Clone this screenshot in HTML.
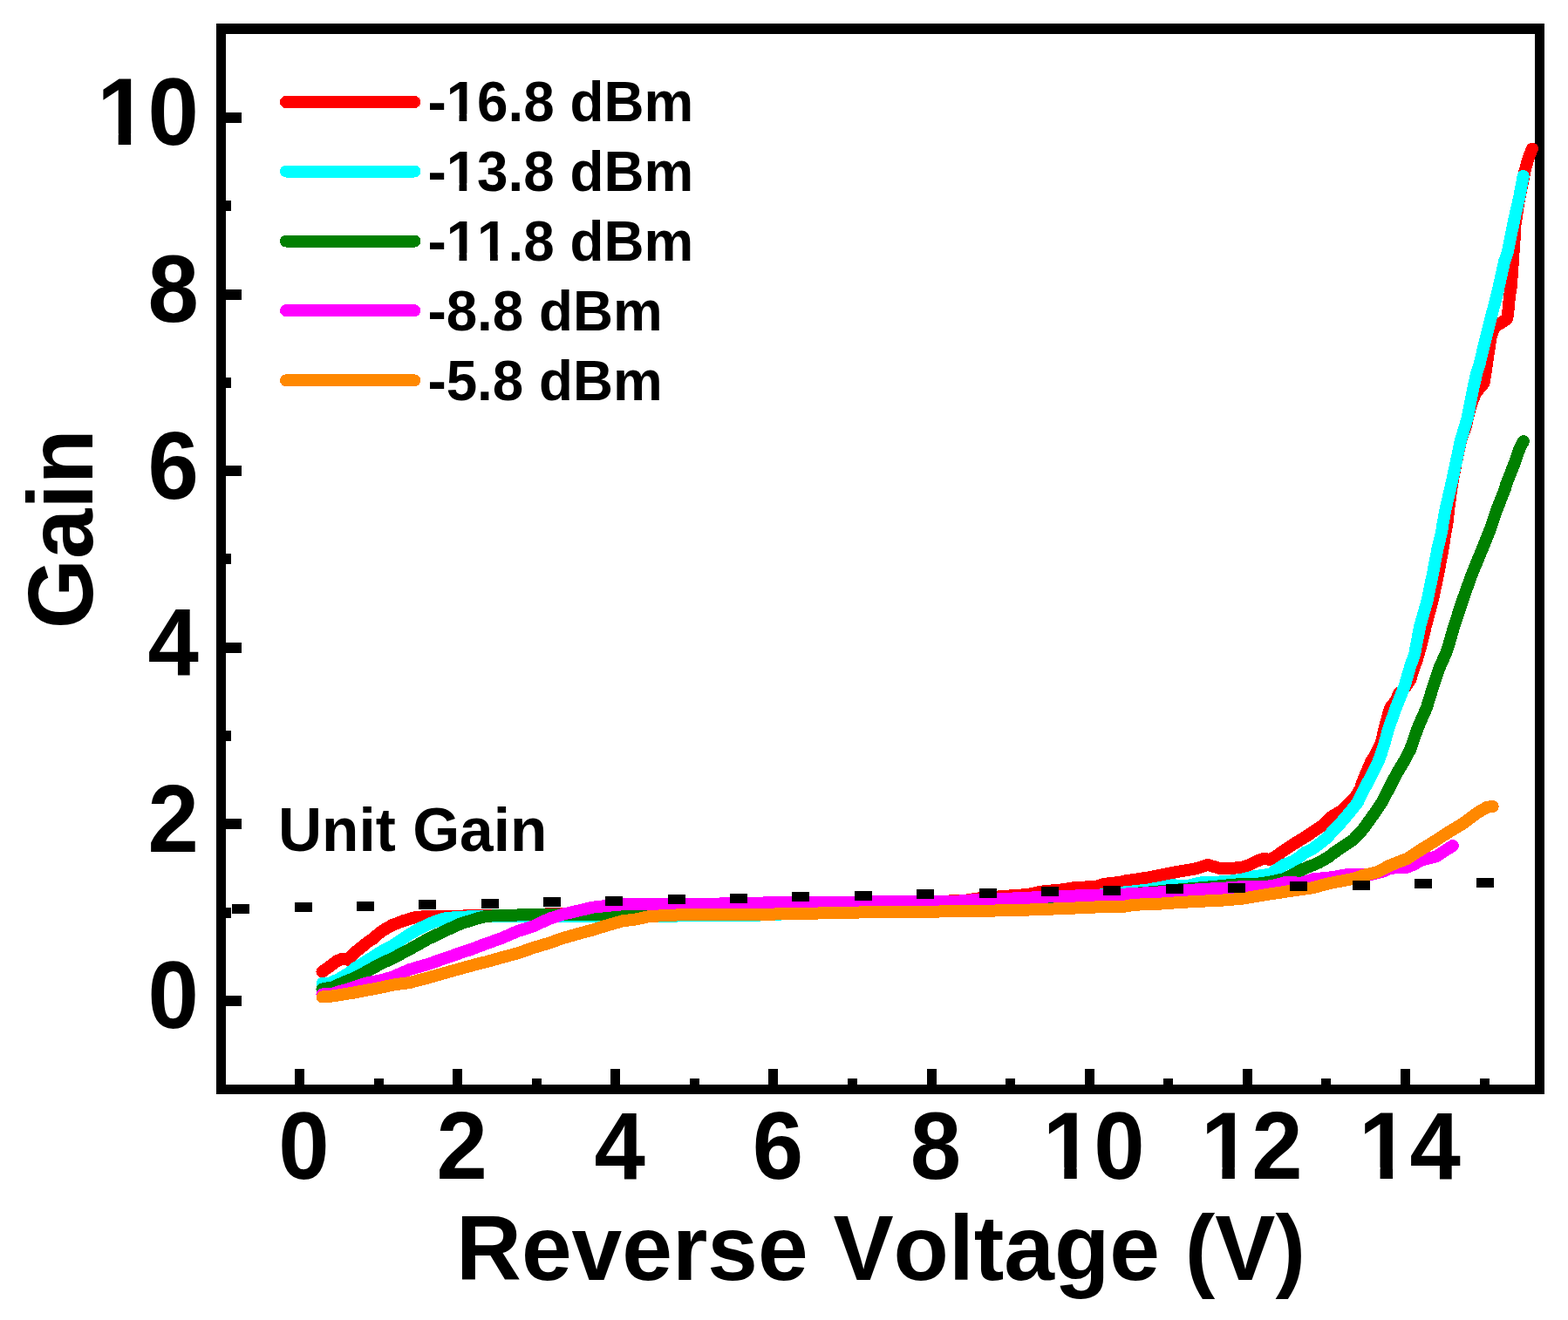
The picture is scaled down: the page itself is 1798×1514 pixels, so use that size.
<!DOCTYPE html>
<html><head><meta charset="utf-8"><title>Gain vs Reverse Voltage</title>
<style>
html,body{margin:0;padding:0;background:#fff;}
svg{display:block;}
text{font-family:"Liberation Sans",Arial,sans-serif;font-weight:bold;fill:#000;font-kerning:none;}
.tk{font-size:105px;}
.ti{font-size:103.7px;}
.ti2{font-size:103px;}
.lg{font-size:63.8px;}
.ug{font-size:69.4px;}
</style></head>
<body>
<svg width="1798" height="1514" viewBox="0 0 1798 1514">
<rect width="1798" height="1514" fill="#fff"/>
<g fill="#000" shape-rendering="crispEdges">
<rect x="248" y="27" width="1523" height="12"/>
<rect x="248" y="1244" width="1523" height="11"/>
<rect x="248" y="27" width="11" height="1228"/>
<rect x="1760" y="27" width="11" height="1228"/>
<rect x="338.00" y="1226" width="11" height="18"/>
<rect x="428.57" y="1237" width="11" height="7"/>
<rect x="519.14" y="1226" width="11" height="18"/>
<rect x="609.71" y="1237" width="11" height="7"/>
<rect x="700.28" y="1226" width="11" height="18"/>
<rect x="790.85" y="1237" width="11" height="7"/>
<rect x="881.42" y="1226" width="11" height="18"/>
<rect x="971.99" y="1237" width="11" height="7"/>
<rect x="1062.56" y="1226" width="11" height="18"/>
<rect x="1153.13" y="1237" width="11" height="7"/>
<rect x="1243.70" y="1226" width="11" height="18"/>
<rect x="1334.27" y="1237" width="11" height="7"/>
<rect x="1424.84" y="1226" width="11" height="18"/>
<rect x="1515.41" y="1237" width="11" height="7"/>
<rect x="1605.98" y="1226" width="11" height="18"/>
<rect x="1696.55" y="1237" width="11" height="7"/>
<rect x="259" y="1141.90" width="18" height="12"/>
<rect x="259" y="1040.60" width="6" height="12"/>
<rect x="259" y="939.30" width="18" height="12"/>
<rect x="259" y="838.00" width="6" height="12"/>
<rect x="259" y="736.70" width="18" height="12"/>
<rect x="259" y="635.40" width="6" height="12"/>
<rect x="259" y="534.10" width="18" height="12"/>
<rect x="259" y="432.80" width="6" height="12"/>
<rect x="259" y="331.50" width="18" height="12"/>
<rect x="259" y="230.20" width="6" height="12"/>
<rect x="259" y="128.90" width="18" height="12"/>
</g>
<g fill="none" stroke-width="14" stroke-linecap="round" stroke-linejoin="round" shape-rendering="crispEdges">
<polyline stroke="#ff0000" points="369.5,1114.5 378.4,1108.3 386,1102.5 391.2,1100.1 394,1100.3 399,1100.6 406.2,1093.3 410.6,1089.5 416.2,1085 421.7,1080.5 427.3,1077 434,1071 440,1066.7 450,1061 463.2,1055.9 476.4,1052.1 489.6,1051 516,1050.8 557,1050 595,1049.5 700,1046 800,1042 900,1039 1000,1036 1105.6,1033 1122,1030.4 1150,1028 1178,1026 1194.5,1022.6 1217,1020.4 1233.5,1018 1256,1017 1267,1013.7 1283.5,1012 1290,1010.5 1316.7,1006.5 1334.5,1003 1352.3,999.5 1370,996.6 1385,992 1401,996.5 1414.6,995.8 1428,994 1441,987.8 1446.6,985.5 1450.6,985 1455.9,985.8 1461.8,983.2 1470.4,976.7 1479.6,970.6 1489.5,964.3 1499.4,958.3 1508.7,951.8 1517.9,945.9 1525,938 1538,930 1547.5,921 1555,913 1560,904.5 1562,898 1565,890.5 1569,880.8 1572.5,873 1576,867.5 1579.5,861 1583.5,852.5 1587.8,835.1 1591.8,819.3 1594.5,811.3 1601,803.4 1604,795.5 1609.6,790.7 1617.2,779.6 1619.5,771.7 1625.1,755.9 1629,742 1634.7,718.9 1642.6,689.2 1649,659.4 1654.5,629.7 1657.5,610 1659.5,600 1661.3,583 1664.8,557.3 1669.5,531.5 1675,505.8 1681,488 1686,466.8 1692,451 1701.6,439.3 1704,424.5 1707,403.4 1710,384.4 1714,374.9 1728,366 1729,361 1731,340 1732.8,328.9 1735.2,294.6 1736.6,274.8 1737,261 1738.5,251.7 1741.1,233.2 1744.8,214.7 1748.5,196.2 1751,187 1753.9,177.7 1757,170.5"/>
<polyline stroke="#00ffff" points="369.5,1128 378.4,1127.6 388.4,1123 399.5,1116.5 407.8,1110 416,1105 438,1091 450,1084.7 469.8,1071.5 483,1064 496.2,1058 509.4,1053.5 522.7,1052 542.5,1051.2 565,1051 610,1051 690,1051 780,1050.5 860,1050 980,1045 1100,1038 1200,1031 1262,1026.5 1290,1023.3 1316.7,1020.6 1343.4,1015.3 1361.2,1016 1379,1012 1405.7,1011.3 1423.5,1009 1436.8,1005.5 1457.8,1002.4 1461.8,999 1473,991.5 1482.9,988 1492.8,981 1496,978 1504,974.4 1512.7,968 1522.6,960.1 1529.2,952.1 1531.9,950 1538.5,942.5 1545,935 1550.8,928 1556.7,920.5 1561.6,910.5 1568.2,897.6 1573.4,888 1577.5,879.7 1581.1,871.8 1584.3,863.2 1588,851 1592.4,835.1 1600.9,811.3 1610.4,787.6 1617.3,763.8 1622.2,750 1624,740 1628.1,718.9 1636.5,689.2 1642.7,659.4 1648.4,629.7 1653.1,610 1654.6,600 1657.8,583 1663.8,557.3 1669.4,531.5 1674.8,505.8 1682.5,480 1689.3,445.7 1693.5,426.8 1696.3,418.7 1703,391 1710,363.2 1717.2,335.5 1723.4,307.7 1725,300 1728.6,290 1730.7,279.5 1736.4,251.7 1742.6,224 1746.7,202"/>
<polyline stroke="#008000" points="369.5,1134.5 375,1133.5 382.8,1132 393.9,1126.7 405,1122.3 416.2,1116.7 427.3,1110.5 438.4,1104.5 449.5,1099.5 469.8,1088.8 489.6,1077.6 509.4,1068 529.3,1059 540,1055.8 549,1053 557.8,1050.7 575.7,1050.1 593.5,1049.5 611.3,1048.5 629.2,1048.5 680,1049 696.7,1048.5 713.4,1047.5 800,1048 940,1047 1000,1045 1100,1040 1200,1033 1300,1025 1380,1018 1422.6,1014 1440,1014 1456.5,1011.6 1473,1008 1492.8,997.5 1499.4,994.6 1506,992.1 1512.7,989.1 1522.6,983.5 1530,977.8 1543.9,968.4 1552,963 1563.9,950 1570.2,941 1576.3,932.6 1585.1,919.4 1590.9,908.1 1597.5,894.9 1604.8,881.7 1608.2,876.4 1611.5,870.5 1617,860 1625.7,835.1 1636,811.3 1643.3,787.6 1651.4,763.8 1657.8,750 1661.1,740 1667.2,718.9 1676.9,689.2 1687.5,659.4 1699.7,629.7 1708.6,607.6 1716.7,583.8 1726.1,560 1726.5,557.3 1736.6,531.5 1742.6,514.3 1747,506"/>
<polyline stroke="#ff00ff" points="369.5,1140.5 381.7,1139.8 389.5,1137.2 399.5,1134.5 410.6,1130.6 421.7,1127.2 435,1124.7 450,1120.7 469.8,1112 489.6,1106.3 509.4,1099.4 529.3,1092.5 540,1089 549,1085.5 557.8,1082.3 575.7,1075.8 593.5,1068.1 611.3,1062.5 630,1053.7 646.7,1048.4 663.4,1044.5 680,1040.6 696.7,1038.9 713.4,1037.3 730,1037.5 800,1037 900,1035 1000,1034.5 1100,1033.5 1133,1031 1167,1030.4 1211,1028 1256,1027 1290,1025.6 1325.6,1023.7 1361.2,1021.2 1379,1019.8 1396.8,1019.2 1423.5,1017.2 1440,1017.3 1458.5,1016.3 1473,1012.3 1492.8,1012.6 1499.4,1010.3 1506,1008.3 1525.9,1006.4 1544.5,1003.2 1564.5,1003.2 1573.4,1002.8 1585.6,999.7 1591.2,997 1599.5,995.3 1613.4,994.7 1619,992.5 1624.5,989.7 1630,986.5 1646.7,982.5 1658.4,974.7 1666,970"/>
<polyline stroke="#ff8800" points="369.8,1143.5 382.8,1142.3 391.7,1140.8 405,1138.7 416.2,1136.5 427.3,1134.5 438.4,1132.3 449.5,1129.8 469.8,1127 489.6,1121.8 509.4,1116.2 529.3,1110.6 548,1105.5 557.8,1103.2 575.7,1098.1 593.5,1093.4 611.3,1087.1 629.2,1081.8 646.7,1075.6 663.4,1070.9 680,1066.4 696.7,1061.2 713.4,1056.4 730,1054.3 745,1051 780,1049.3 820,1049 860,1049 900,1048.3 1000,1046.2 1100,1045.3 1167,1044 1222,1042 1267,1040 1290,1039.6 1300,1037.8 1334.5,1036.4 1352.3,1035 1379,1033.6 1396.8,1033 1423.5,1030.8 1450,1026.4 1482.3,1021.5 1492.8,1020 1506,1018.1 1519.3,1014.3 1530,1012 1541,1010 1552,1007.8 1563.4,1003.9 1574.5,1001.5 1580,999.8 1585.6,997 1591.2,993.8 1602.3,989.2 1613.4,985 1619,981.3 1630,974.2 1646.7,963.8 1662.3,953.7 1677.9,944.4 1693.4,932.7 1705,925.8 1711.7,925"/>
</g>
<g fill="#000" shape-rendering="crispEdges">
<rect x="266.30" y="1036.79" width="20" height="11"/>
<rect x="337.65" y="1035.30" width="20" height="11"/>
<rect x="409.00" y="1033.80" width="20" height="11"/>
<rect x="480.35" y="1032.31" width="20" height="11"/>
<rect x="551.70" y="1030.81" width="20" height="11"/>
<rect x="623.05" y="1029.32" width="20" height="11"/>
<rect x="694.40" y="1027.82" width="20" height="11"/>
<rect x="765.75" y="1026.33" width="20" height="11"/>
<rect x="837.10" y="1024.83" width="20" height="11"/>
<rect x="908.45" y="1023.34" width="20" height="11"/>
<rect x="979.80" y="1021.84" width="20" height="11"/>
<rect x="1051.15" y="1020.35" width="20" height="11"/>
<rect x="1122.50" y="1018.85" width="20" height="11"/>
<rect x="1193.85" y="1017.36" width="20" height="11"/>
<rect x="1265.20" y="1015.86" width="20" height="11"/>
<rect x="1336.55" y="1014.37" width="20" height="11"/>
<rect x="1407.90" y="1012.87" width="20" height="11"/>
<rect x="1479.25" y="1011.38" width="20" height="11"/>
<rect x="1550.60" y="1009.88" width="20" height="11"/>
<rect x="1621.95" y="1008.39" width="20" height="11"/>
<rect x="1693.30" y="1006.89" width="20" height="11"/>
</g>
<line x1="328" y1="117" x2="475.3" y2="117" stroke="#ff0000" stroke-width="14" stroke-linecap="round" shape-rendering="crispEdges"/>
<g transform="translate(490.4,139.3) scale(1,1.01)"><text class="lg">-16.8 dBm</text><rect x="24.06" y="-8.51" width="12.07" height="9.41" fill="#fff"/><rect x="44.88" y="-8.51" width="11.26" height="9.41" fill="#fff"/></g>
<line x1="328" y1="196.5" x2="475.3" y2="196.5" stroke="#00ffff" stroke-width="14" stroke-linecap="round" shape-rendering="crispEdges"/>
<g transform="translate(490.4,218.8) scale(1,1.01)"><text class="lg">-13.8 dBm</text><rect x="24.06" y="-8.51" width="12.07" height="9.41" fill="#fff"/><rect x="44.88" y="-8.51" width="11.26" height="9.41" fill="#fff"/></g>
<line x1="328" y1="276.6" x2="475.3" y2="276.6" stroke="#008000" stroke-width="14" stroke-linecap="round" shape-rendering="crispEdges"/>
<g transform="translate(490.4,298.9) scale(1,1.01)"><text class="lg">-11.8 dBm</text><rect x="24.06" y="-8.51" width="12.07" height="9.41" fill="#fff"/><rect x="44.88" y="-8.51" width="11.26" height="9.41" fill="#fff"/><rect x="59.53" y="-8.51" width="12.07" height="9.41" fill="#fff"/><rect x="80.36" y="-8.51" width="11.26" height="9.41" fill="#fff"/></g>
<line x1="328" y1="356.2" x2="475.3" y2="356.2" stroke="#ff00ff" stroke-width="14" stroke-linecap="round" shape-rendering="crispEdges"/>
<g transform="translate(490.4,378.5) scale(1,1.01)"><text class="lg">-8.8 dBm</text></g>
<line x1="328" y1="436.3" x2="475.3" y2="436.3" stroke="#ff8800" stroke-width="14" stroke-linecap="round" shape-rendering="crispEdges"/>
<g transform="translate(490.4,458.6) scale(1,1.01)"><text class="lg">-5.8 dBm</text></g>
<g transform="translate(348.50,1352) scale(1,1.035)"><text class="tk" text-anchor="middle">0</text></g>
<g transform="translate(529.64,1352) scale(1,1.035)"><text class="tk" text-anchor="middle">2</text></g>
<g transform="translate(710.78,1352) scale(1,1.035)"><text class="tk" text-anchor="middle">4</text></g>
<g transform="translate(891.92,1352) scale(1,1.035)"><text class="tk" text-anchor="middle">6</text></g>
<g transform="translate(1073.06,1352) scale(1,1.035)"><text class="tk" text-anchor="middle">8</text></g>
<g transform="translate(1254.20,1352) scale(1,1.035)"><text class="tk" text-anchor="middle">10</text><rect x="-52.98" y="-12.72" width="19.09" height="13.62" fill="#fff"/><rect x="-19.48" y="-12.72" width="17.76" height="13.62" fill="#fff"/></g>
<g transform="translate(1435.34,1352) scale(1,1.035)"><text class="tk" text-anchor="middle">12</text><rect x="-52.98" y="-12.72" width="19.09" height="13.62" fill="#fff"/><rect x="-19.48" y="-12.72" width="17.76" height="13.62" fill="#fff"/></g>
<g transform="translate(1616.48,1352) scale(1,1.035)"><text class="tk" text-anchor="middle">14</text><rect x="-52.98" y="-12.72" width="19.09" height="13.62" fill="#fff"/><rect x="-19.48" y="-12.72" width="17.76" height="13.62" fill="#fff"/></g>
<g transform="translate(228,1179.40) scale(1,1.035)"><text class="tk" text-anchor="end">0</text></g>
<g transform="translate(228,976.80) scale(1,1.035)"><text class="tk" text-anchor="end">2</text></g>
<g transform="translate(228,774.20) scale(1,1.035)"><text class="tk" text-anchor="end">4</text></g>
<g transform="translate(228,571.60) scale(1,1.035)"><text class="tk" text-anchor="end">6</text></g>
<g transform="translate(228,369.00) scale(1,1.035)"><text class="tk" text-anchor="end">8</text></g>
<g transform="translate(228,166.40) scale(1,1.035)"><text class="tk" text-anchor="end">10</text><rect x="-111.37" y="-12.72" width="19.09" height="13.62" fill="#fff"/><rect x="-77.87" y="-12.72" width="17.76" height="13.62" fill="#fff"/></g>
<text transform="translate(1010,1467.6) scale(1,1.02)" class="ti" text-anchor="middle">Reverse Voltage (V)</text>
<text transform="translate(106,606.7) rotate(-90) scale(1,1.02)" class="ti2" text-anchor="middle">Gain</text>
<text transform="translate(319,976) scale(1,1.015)" class="ug">Unit Gain</text>
</svg>
</body></html>
